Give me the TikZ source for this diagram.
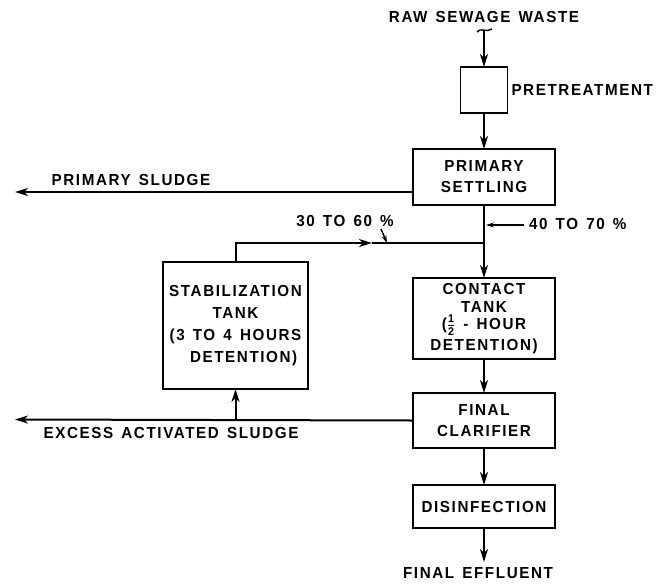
\documentclass[tikz,border=0pt]{standalone}
\usepackage{amsmath}
\usepackage{fontspec}
\setmainfont{Liberation Sans}[LetterSpace=10, FakeStretch=0.95, WordSpace=1.4]
\usetikzlibrary{arrows.meta, positioning, calc}
\tikzset{
    flowsheet/.style={>={Stealth[length=13pt, width=8pt, inset=4pt]}, line width=2pt,
        font=\fontsize{16}{21}\selectfont\bfseries, x=1pt, y=-1pt},
    stage/.style={draw, line width=1.8pt, minimum width=142pt, align=center, inner sep=2pt, outer sep=0pt},
    tag/.style={inner sep=0pt},
    % short pointer from a percentage label to its line
    pointer/.style={->, line width=1.4pt, >={Stealth[length=8pt, width=5pt, inset=3pt]}},
}

\begin{document}
\begin{tikzpicture}[flowsheet]
        \useasboundingbox (0,0) rectangle (669,584);

        % main treatment train
        \coordinate (in) at (484,30);
        \node[stage, minimum width=47pt, minimum height=46pt] (pre) at (484,90) {};
        \node[stage, minimum height=56pt, below=36pt of pre]   (settle)  {PRIMARY\\SETTLING};
        \node[stage, minimum height=81pt, below=73pt of settle, font=\fontsize{16}{17.5}\selectfont\bfseries]
                                                               (contact) {CONTACT\\TANK\\($\frac{\text{1}}{\text{2}}$ - HOUR\\[2pt]DETENTION)};
        \node[stage, minimum height=55pt, below=34pt of contact] (clar)   {FINAL\\CLARIFIER};
        \node[stage, minimum height=43pt, below=37pt of clar]  (disinf)  {DISINFECTION};
        \node[stage, minimum width=145pt, minimum height=127pt, font=\fontsize{16}{22}\selectfont\bfseries]
                                                               (stab) at (235.5,325.5) {STABILIZATION\\TANK\\(3 TO 4 HOURS\\\ \ DETENTION)};

        \coordinate[below=34pt of disinf.south] (out);
        \coordinate (sl)  at ($(settle.west)+(0,15)$);
        \coordinate (jn)  at ($(settle.south)+(0,38)$);
        \coordinate (ex)  at (stab.south |- clar.west);
        \coordinate (mid) at (372,243);

        % labels
        \node[tag, above=6pt of in]                    (raw)   {RAW SEWAGE WASTE};
        \node[tag, right=3pt of pre]                   (pretx) {PRETREATMENT};
        \node[tag] (eff)   at (478,573)                        {FINAL EFFLUENT};
        \node[tag] (pslab) at (131,180)                        {PRIMARY SLUDGE};
        \node[tag] (exlab) at (171,433)                        {EXCESS ACTIVATED SLUDGE};

        % tilde on the raw inflow
        \draw[line width=1.4pt] ($(in)+(-7,2)$) .. controls ($(in)+(-4,-3)$) and ($(in)+(3,3)$) .. ($(in)+(8,-1)$);

        \draw[->] (in) -- (pre.north);
        \draw[->] (pre.south) -- (settle.north);
        \draw[->] (settle.south) -- (contact.north);
        \draw[->] (contact.south) -- (clar.north);
        \draw[->] (clar.south) -- (disinf.north);
        \draw[->] (disinf.south) -- (out);

        % sludge lines
        \draw[->] (sl) -- (15,192);
        \draw[->] (clar.west) -- (15,419.5);
        \draw[->] (ex) -- (stab.south);

        % return from stabilization
        \draw[->] (stab.north) |- (mid);
        \draw (mid) -- (jn);

        % flow split
        \coordinate (p40) at ($(jn)+(40,-18)$);
        \coordinate (t40) at ($(jn)+(2,-18)$);
        \draw[pointer] (p40) -- (t40);
        \node[tag, anchor=west] (l40) at ($(p40)+(4,-1)$) {40 TO 70 \%};

        \coordinate (p30) at (387,243);
        \coordinate (q30) at (381,229);
        \draw[pointer] (q30) -- (p30);
        \node[tag] (l30) at (345,221) {30 TO 60 \%};
    \end{tikzpicture}
\end{document}
